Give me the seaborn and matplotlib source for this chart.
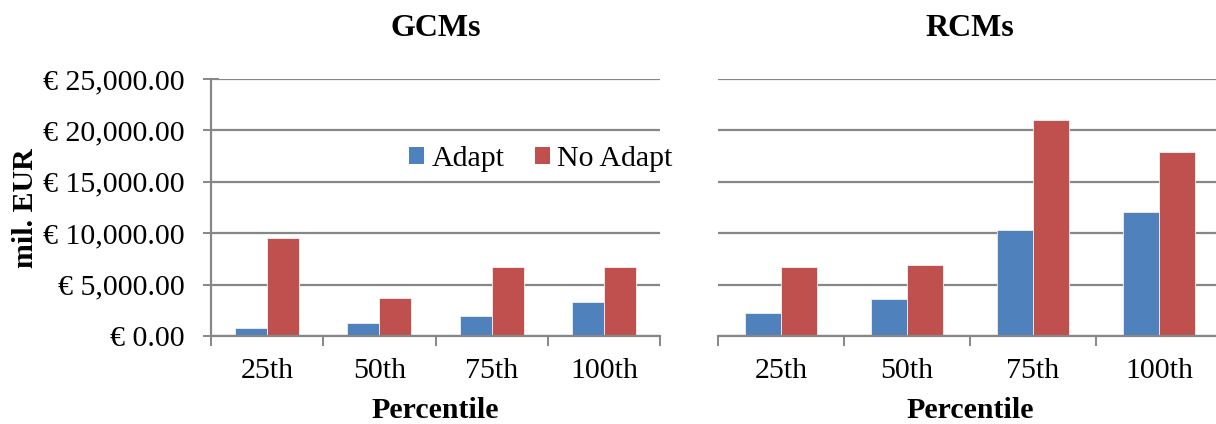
import matplotlib
matplotlib.use("Agg")
import matplotlib.pyplot as plt
from matplotlib.ticker import FixedLocator, FuncFormatter
from matplotlib.patches import Patch
import seaborn as sns
import pandas as pd

percentiles = ["25th", "50th", "75th", "100th"]
scenarios = ["Adapt", "No Adapt"]
gcm_adapt = [810, 1265, 1946, 3337]
gcm_no_adapt = [9562, 3667, 6683, 6741]
rcm_adapt = [2193, 3590, 10316, 12034]
rcm_no_adapt = [6755, 6920, 20992, 17886]
y_ticks = [0, 5000, 10000, 15000, 20000, 25000]

colors = {"Adapt": "#4F81BD", "No Adapt": "#C0504D"}
grid_color = "#878787"
fs = 21.5

sns.set_theme(style="white")
plt.rcParams["font.family"] = ["Liberation Serif", "DejaVu Serif"]
plt.rcParams["font.size"] = fs
plt.rcParams["text.color"] = "black"
plt.rcParams["axes.labelcolor"] = "black"
plt.rcParams["xtick.color"] = "black"
plt.rcParams["ytick.color"] = "black"


def long_frame(adapt, no_adapt):
    rows = []
    for p, a, n in zip(percentiles, adapt, no_adapt):
        rows.append({"Percentile": p, "Scenario": "Adapt", "Value": a})
        rows.append({"Percentile": p, "Scenario": "No Adapt", "Value": n})
    return pd.DataFrame(rows)


fig = plt.figure(figsize=(12.16, 4.24), dpi=100)
ax_l = fig.add_axes([211 / 1216, 88 / 424, 449 / 1216, 257 / 424])
ax_r = fig.add_axes([718 / 1216, 88 / 424, 504 / 1216, 257 / 424])

panels = [
    (ax_l, "GCMs", gcm_adapt, gcm_no_adapt),
    (ax_r, "RCMs", rcm_adapt, rcm_no_adapt),
]

for ax, title, adapt, no_adapt in panels:
    df = long_frame(adapt, no_adapt)
    sns.barplot(data=df, x="Percentile", y="Value", hue="Scenario",
                order=percentiles, hue_order=scenarios, palette=colors,
                saturation=1, width=0.572, ax=ax, edgecolor="#f0f0f0",
                linewidth=0.6, legend=False, zorder=3)
    ax.set_xlim(-0.5, len(percentiles) - 0.5)
    ax.set_ylim(0, 25000)
    ax.yaxis.set_major_locator(FixedLocator(y_ticks))
    ax.grid(axis="y", color=grid_color, linewidth=1.6, zorder=0)
    ax.grid(axis="x", visible=False)
    ax.set_axisbelow(True)

    # category boundaries carry the tick marks, labels sit at centres
    ax.xaxis.set_major_locator(FixedLocator([i - 0.5 for i in range(len(percentiles) + 1)]))
    ax.xaxis.set_minor_locator(FixedLocator(list(range(len(percentiles)))))
    ax.set_xticklabels([], minor=False)
    ax.set_xticklabels(percentiles, minor=True)
    ax.tick_params(axis="x", which="major", direction="out", length=7,
                   width=1.4, color=grid_color, bottom=True)
    ax.tick_params(axis="x", which="minor", length=0, pad=16, labelsize=fs,
                   labelcolor="black")

    for side in ["top", "right", "left"]:
        ax.spines[side].set_visible(False)
    ax.spines["bottom"].set_color(grid_color)
    ax.spines["bottom"].set_linewidth(1.6)
    ax.spines["bottom"].set_zorder(4)

    ax.set_xlabel("Percentile", fontsize=fs, fontweight="bold", va="top")
    ax.xaxis.set_label_coords(0.5, -0.237)
    ax.set_title(title, fontsize=23, fontweight="bold", pad=31)

# left panel: value axis
ax_l.spines["left"].set_visible(True)
ax_l.spines["left"].set_color(grid_color)
ax_l.spines["left"].set_linewidth(1.6)
ax_l.yaxis.set_major_formatter(FuncFormatter(lambda v, _: f"\u20ac {v:,.2f}"))
ax_l.tick_params(axis="y", direction="inout", length=11.5, width=1.4,
                 color=grid_color, left=True, labelsize=fs, pad=13,
                 labelcolor="black")
ax_l.set_ylabel("mil. EUR", fontsize=fs, fontweight="bold")
ax_l.yaxis.set_label_coords(-0.383, 0.496)

# right panel shares the scale but shows no value labels
ax_r.tick_params(axis="y", left=False, labelleft=False)
ax_r.set_ylabel("")

handles = [Patch(facecolor=colors[s], edgecolor="none", label=s) for s in scenarios]
ax_l.legend(handles=handles, loc="center left", bbox_to_anchor=(0.442, 0.69),
            ncol=2, frameon=False, fontsize=fs, handlelength=0.5,
            handleheight=0.5, handletextpad=0.25, columnspacing=1.0,
            borderaxespad=0, borderpad=0)

fig.savefig("out.png", dpi=100)
